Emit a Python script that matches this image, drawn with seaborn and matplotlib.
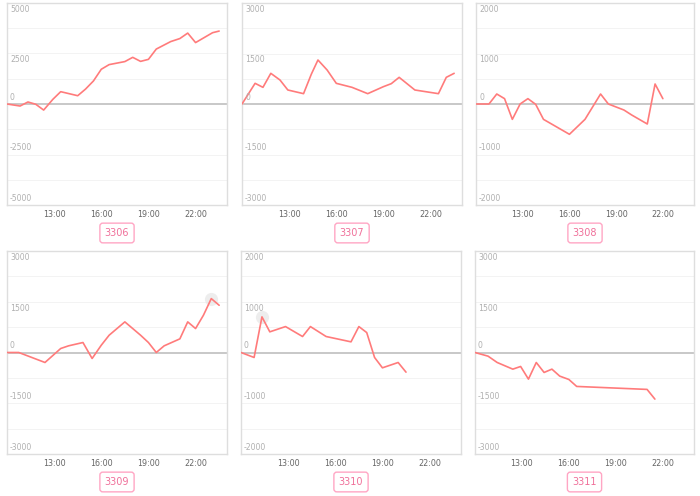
import pandas as pd
import seaborn as sns
import matplotlib.pyplot as plt
import matplotlib.transforms as mtransforms

# values, times as HH:MM
times_3306 = ['10:00', '10:50', '11:20', '11:50', '12:20', '12:55', '13:25', '14:30', '15:00', '15:30',
              '16:00', '16:30', '17:30', '18:00', '18:30', '19:00', '19:30', '20:25', '21:00', '21:30',
              '22:00', '23:05', '23:30']
vals_3306 = [0, -100, 100, -15, -300, 230, 610, 410, 740, 1140,
             1720, 1950, 2100, 2310, 2110, 2210, 2720, 3090, 3240, 3510,
             3040, 3530, 3610]

times_3307 = ['10:00', '10:50', '11:20', '11:50', '12:25', '12:55', '13:55', '14:25', '14:50', '15:25',
              '16:00', '17:00', '18:00', '19:00', '19:30', '20:00', '21:00', '22:30', '23:00', '23:30']
vals_3307 = [0, 614, 495, 911, 713, 416, 307, 891, 1307, 1010,
             614, 495, 307, 515, 604, 792, 416, 307, 792, 911]

times_3308 = ['10:00', '10:50', '11:20', '11:50', '12:20', '12:50', '13:20', '13:50', '14:20', '16:00',
              '17:00', '18:00', '18:30', '19:30', '20:00', '21:00', '21:30', '22:00']
vals_3308 = [0, 0, 198, 106, -304, 0, 106, -7, -304, -600,
             -304, 198, 0, -119, -218, -396, 396, 106]

times_3309 = ['10:00', '10:45', '12:25', '13:25', '13:55', '14:50', '15:25', '16:00', '16:30', '17:30',
              '18:30', '19:00', '19:30', '20:00', '21:00', '21:30', '22:00', '22:30', '23:00', '23:30']
vals_3309 = [0, 0, -295, 118, 197, 295, -177, 216, 511, 905,
             511, 295, 0, 197, 403, 905, 708, 1101, 1593, 1396]

times_3310 = ['10:00', '10:50', '11:20', '11:50', '12:50', '13:55', '14:25', '15:25', '17:00', '17:30',
              '18:00', '18:30', '19:00', '20:00', '20:30']
vals_3310 = [0, -98, 702, 407, 511, 315, 511, 315, 210, 511,
             393, -98, -302, -197, -387]

times_3311 = ['10:00', '10:50', '11:25', '12:25', '12:55', '13:25', '13:55', '14:25', '14:55', '15:25',
              '16:00', '16:30', '21:00', '21:30']
vals_3311 = [0, -108, -295, -492, -413, -787, -295, -590, -492, -698,
             -797, -1003, -1091, -1377]

codes = ['3306', '3307', '3308', '3309', '3310', '3311']
y_limits = [5000, 3000, 2000, 3000, 2000, 3000]
hover_times = [None, None, None, '23:00', '11:20', None]
x_ticks = [13, 16, 19, 22]
x_tick_labels = ['13:00', '16:00', '19:00', '22:00']

all_times = [times_3306, times_3307, times_3308, times_3309, times_3310, times_3311]
all_vals = [vals_3306, vals_3307, vals_3308, vals_3309, vals_3310, vals_3311]


def to_hours(t):
    h, m = t.split(':')
    return int(h) + int(m) / 60


sns.set_style('white')
plt.rcParams['font.family'] = ['DejaVu Sans']

W, H = 700, 496
fig = plt.figure(figsize=(W / 100, H / 100), dpi=100)

# panel boxes in pixels: left, top, right, bottom
boxes = [(7, 3, 227, 205), (242, 3, 462, 205), (476, 3, 694, 205),
         (7, 251, 227, 454), (241, 251, 461, 454), (475, 251, 694, 454)]
title_y = [233, 233, 233, 482, 482, 482]

line_color = '#ff7b7b'

for i, code in enumerate(codes):
    l, t, r, b = boxes[i]
    ax = fig.add_axes([l / W, 1 - b / H, (r - l) / W, (b - t) / H])
    df = pd.DataFrame({'hour': [to_hours(x) for x in all_times[i]], 'value': all_vals[i]})

    lim = y_limits[i]
    for g in range(-4, 5):
        if g == 0:
            continue
        ax.axhline(g * lim / 4, color='#f1f1f1', lw=0.6, zorder=0)
    ax.axhline(0, color='#c8c8c8', lw=1.4, zorder=1)

    if hover_times[i] is not None:
        hp = df[df['hour'] == to_hours(hover_times[i])]
        ax.scatter(hp['hour'], hp['value'], s=90, color='#e6e6e6', alpha=0.7, zorder=2, linewidths=0)

    sns.lineplot(data=df, x='hour', y='value', ax=ax, color=line_color, lw=1.2, zorder=3)

    ax.set_xlim(10, 24)
    ax.set_ylim(-lim, lim)
    ax.set_xticks(x_ticks)
    ax.set_xticklabels(x_tick_labels, fontsize=5.8, color='#666666')
    ax.tick_params(axis='x', length=0, pad=3.5)
    ax.set_yticks([])
    ax.set_xlabel('')
    ax.set_ylabel('')
    for s in ax.spines.values():
        s.set_color('#dedede')
        s.set_linewidth(1.0)

    trans = mtransforms.blended_transform_factory(ax.transAxes, ax.transData)
    y_labels = [(lim, 'top', -2), (lim / 2, 'top', -2), (0, 'bottom', 2),
                (-lim / 2, 'bottom', 2), (-lim, 'bottom', 2)]
    for yv, va, dy in y_labels:
        ax.annotate(f'{int(yv)}', xy=(0, yv), xycoords=trans, xytext=(3, dy),
                    textcoords='offset pixels', va=va, ha='left', fontsize=5.6, color='#b0b0b0')

    fig.text(((l + r) / 2) / W, 1 - title_y[i] / H, code, ha='center', va='center',
             fontsize=7, color='#f0709a',
             bbox=dict(boxstyle='round,pad=0.5,rounding_size=0.3', fc='white', ec='#ffa6c4', lw=1.0))

fig.savefig('out.png', dpi=100)
